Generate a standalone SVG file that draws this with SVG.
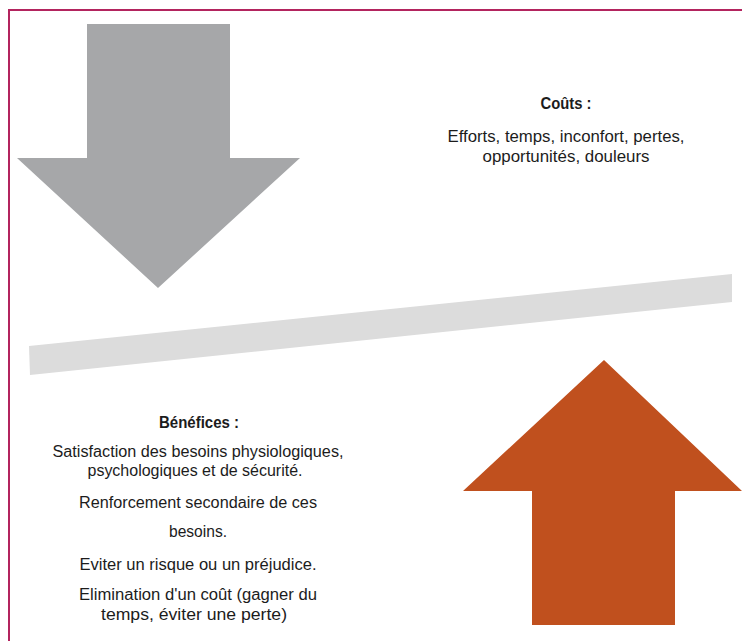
<svg xmlns="http://www.w3.org/2000/svg" width="742" height="641" viewBox="0 0 742 641">
<style>
.t{font-family:"Liberation Sans",Arial,sans-serif;font-size:16px;fill:#1c1c1c;text-anchor:middle}
.b{font-weight:bold}
</style>
<rect width="742" height="641" fill="#ffffff"/>
<g id="border">
<path d="M9,641 V10 H742" fill="none" stroke="#b3245e" stroke-width="2"/>
</g>
<g id="balance">
<polygon points="29,346 732,274 732,302 30,375" fill="#dcdcdc"/>
</g>
<g id="costs-arrow">
<polygon points="87,24 230,24 230,158 300,158 158,288 17,158 87,158" fill="#a6a7a9"/>
</g>
<g id="benefits-arrow">
<polygon points="604,360 742,491 675,491 675,625 532,625 532,491 463,491" fill="#c0501e"/>
</g>
<g id="costs-text">
<text class="t b" x="566" y="109" textLength="51" lengthAdjust="spacingAndGlyphs">Coûts :</text>
<text class="t" x="566" y="142" textLength="237" lengthAdjust="spacingAndGlyphs">Efforts, temps, inconfort, pertes,</text>
<text class="t" x="566" y="162" textLength="167" lengthAdjust="spacingAndGlyphs">opportunités, douleurs</text>
</g>
<g id="benefits-text">
<text class="t b" x="199" y="428" textLength="80" lengthAdjust="spacingAndGlyphs">Bénéfices :</text>
<text class="t" x="198" y="457" textLength="291" lengthAdjust="spacingAndGlyphs">Satisfaction des besoins physiologiques,</text>
<text class="t" x="195" y="476" textLength="215" lengthAdjust="spacingAndGlyphs">psychologiques et de sécurité.</text>
<text class="t" x="198" y="508" textLength="238" lengthAdjust="spacingAndGlyphs">Renforcement secondaire de ces</text>
<text class="t" x="198" y="537" textLength="58" lengthAdjust="spacingAndGlyphs">besoins.</text>
<text class="t" x="198" y="570" textLength="237" lengthAdjust="spacingAndGlyphs">Eviter un risque ou un préjudice.</text>
<text class="t" x="198" y="600" textLength="238" lengthAdjust="spacingAndGlyphs">Elimination d'un coût (gagner du</text>
<text class="t" x="194" y="620" textLength="186" lengthAdjust="spacingAndGlyphs">temps, éviter une perte)</text>
</g>
</svg>
